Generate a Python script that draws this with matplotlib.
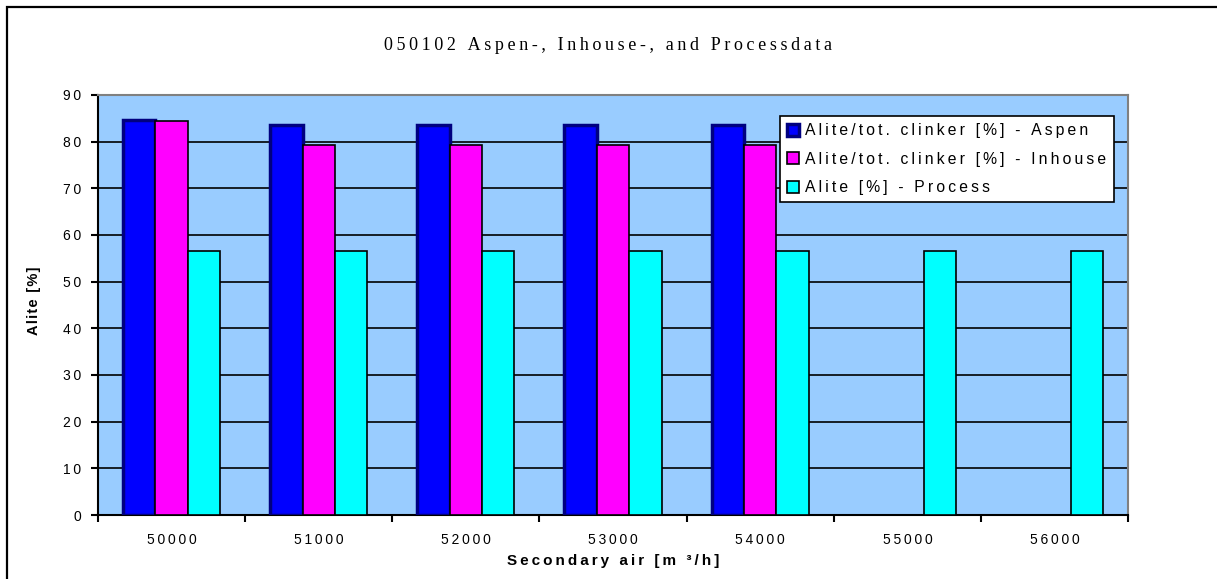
import matplotlib
matplotlib.use("Agg")
import matplotlib.pyplot as plt
import numpy as np
from matplotlib.patches import Rectangle

categories = ["50000", "51000", "52000", "53000", "54000", "55000", "56000"]
aspen = [84.6, 83.6, 83.6, 83.6, 83.6, np.nan, np.nan]
inhouse = [84.4, 79.2, 79.2, 79.2, 79.2, np.nan, np.nan]
process = [56.5, 56.5, 56.5, 56.5, 56.5, 56.5, 56.5]
labels = ["Alite/tot. clinker [%] - Aspen", "Alite/tot. clinker [%] - Inhouse", "Alite [%] - Process"]
title = "050102 Aspen-, Inhouse-, and Processdata"

THIN = "\u2009"
HAIR = "\u200a"


def spaced(s, sep=THIN):
    return sep.join(s)


SANS = ["Liberation Sans", "DejaVu Sans"]
SERIF = ["Liberation Serif", "DejaVu Serif"]

fig = plt.figure(figsize=(12.17, 5.79), dpi=100)
fig.patches.append(Rectangle((0.0058, -0.05), 1.2, 1.038, transform=fig.transFigure,
                             fill=False, edgecolor="black", linewidth=1.6))
ax = fig.add_axes([0.0805, 0.1105, 0.8465, 0.7255])
ax.set_facecolor("#99CCFF")

x = np.arange(len(categories))
w = 0.22
ax.bar(x - w, aspen, w, color="#0000FF", edgecolor="#000080", linewidth=2.5, label=spaced(labels[0]), zorder=3)
ax.bar(x, inhouse, w, color="#FF00FF", edgecolor="black", linewidth=1.2, label=spaced(labels[1]), zorder=3)
ax.bar(x + w, process, w, color="#00FFFF", edgecolor="black", linewidth=1.2, label=spaced(labels[2]), zorder=3)

ax.set_xlim(-0.5, len(categories) - 0.5)
ax.set_ylim(0, 90)
yt = list(range(0, 91, 10))
ax.set_yticks(yt)
ax.set_yticklabels([spaced(str(v)) for v in yt], family=SANS, fontsize=10)
ax.yaxis.grid(True, color="black", linewidth=1.2, zorder=0)
ax.set_axisbelow(True)
ax.set_xticks(np.arange(-0.5, len(categories), 1))
ax.set_xticklabels([])
ax.set_xticks(x, minor=True)
ax.set_xticklabels([spaced(c) for c in categories], minor=True, family=SANS, fontsize=10)
ax.tick_params(axis="x", which="minor", length=0, pad=13)
ax.tick_params(axis="x", which="major", length=5, width=1.5, direction="out")
ax.tick_params(axis="y", length=5, width=1.5, direction="out", pad=7)

for s in ["top", "right"]:
    ax.spines[s].set_color("#808080")
    ax.spines[s].set_linewidth(1.5)
for s in ["left", "bottom"]:
    ax.spines[s].set_color("black")
    ax.spines[s].set_linewidth(1.5)

ax.set_ylabel(spaced("Alite [%]", HAIR), fontsize=10.5, fontweight="bold", family=SANS)
ax.yaxis.set_label_coords(-0.055, 0.51)
ax.set_xlabel(spaced("Secondary air [m \u00b3/h]"), fontsize=11, fontweight="bold", family=SANS, labelpad=5)
fig.text(0.5, 0.922, spaced(title), ha="center", va="center", fontsize=13, family=SERIF)

leg = ax.legend(loc="upper right", bbox_to_anchor=(0.9935, 0.968), frameon=True, fancybox=False,
                edgecolor="black", framealpha=1, handlelength=0.8, handleheight=0.8,
                handletextpad=0.4, borderpad=0.45, labelspacing=0.85,
                prop={"family": SANS, "size": 11.3})
leg.get_frame().set_linewidth(1.2)

fig.savefig("out.png", dpi=100)
